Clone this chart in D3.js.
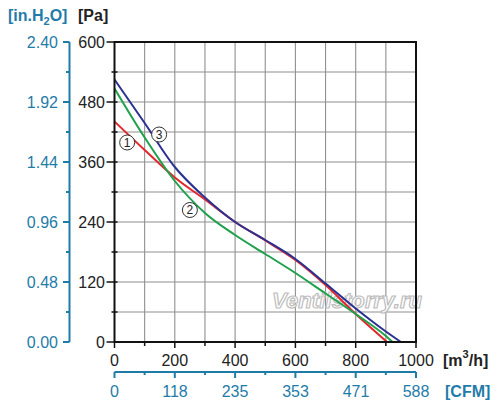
<!DOCTYPE html>
<html lang="en">
<head>
<meta charset="UTF-8">
<title>Fan curves</title>
<script src="https://cdn.jsdelivr.net/npm/d3@7/dist/d3.min.js"></script>
<style>
    body { margin: 0; background: #fff; }
    text { font-family: "Liberation Sans", Arial, sans-serif; }
</style>
</head>
<body>
<div id="chart"></div>
<script>
// air flow [m3/h] and static pressure [Pa] for each curve
const flow1 = [0, 100, 200, 300, 400, 500, 600, 700, 800, 904];
const pres1 = [441, 384, 329, 285, 240, 203, 164, 114, 56, 0];
const flow2 = [0, 100, 200, 300, 400, 500, 600, 700, 800, 900, 922];
const pres2 = [507, 409, 322, 258, 214, 176, 138, 97, 56, 12, 0];
const flow3 = [0, 100, 200, 300, 400, 500, 600, 700, 800, 900, 950];
const pres3 = [525, 438, 350, 289, 240, 204, 166, 117, 67, 21, 0];
const curveColors = ["#e3262b", "#1ea14b", "#2b3191"];

// circled curve numbers, placed in data units
const markNames = ["1", "2", "3"];
const markFlow = [42, 250, 148];
const markPres = [399, 264, 415];

// axis ticks
const paTicks = [0, 120, 240, 360, 480, 600];
const inTicks = [0, 0.48, 0.96, 1.44, 1.92, 2.40];
const flowTicks = [0, 200, 400, 600, 800, 1000];
const cfmTicks = [0, 118, 235, 353, 471, 588];

const W = 500, H = 406;
const blue = "#1f7ca8";
const fs = 16;

const svg = d3.select("#chart").append("svg")
    .attr("width", W).attr("height", H);

const x = d3.scaleLinear().domain([0, 1000]).range([114.5, 416]);
const y = d3.scaleLinear().domain([0, 600]).range([342, 42]);
const yIn = d3.scaleLinear().domain([0, 2.40]).range([342, 42]);
const xCfm = d3.scaleLinear().domain([0, 588]).range([114.5, 416]);

// grid
const grid = svg.append("g").attr("stroke", "#909090").attr("stroke-width", 1.1);
grid.selectAll(".gx").data(d3.range(100, 1000, 100)).enter().append("line")
    .attr("x1", d => x(d)).attr("x2", d => x(d))
    .attr("y1", y(0)).attr("y2", y(600));
grid.selectAll(".gy").data(d3.range(60, 600, 60)).enter().append("line")
    .attr("x1", x(0)).attr("x2", x(1000))
    .attr("y1", d => y(d)).attr("y2", d => y(d));

// watermark
svg.append("text")
    .attr("x", 272).attr("y", 308)
    .attr("font-size", 22).attr("font-style", "italic").attr("font-weight", "bold")
    .attr("textLength", 150)
    .attr("fill", "#fff").attr("stroke", "#bdbdbd").attr("stroke-width", 1.2)
    .text("Ventilstorry.ru");

// curves
const line = d3.line()
    .x(d => x(d[0])).y(d => y(d[1]))
    .curve(d3.curveMonotoneX);
[[flow1, pres1], [flow2, pres2], [flow3, pres3]].forEach(([f, p], i) => {
    svg.append("path")
        .datum(f.map((v, j) => [v, p[j]]))
        .attr("fill", "none")
        .attr("stroke", curveColors[i])
        .attr("stroke-width", 2)
        .attr("d", line);
});

// frame
svg.append("rect")
    .attr("x", x(0)).attr("y", y(600))
    .attr("width", x(1000) - x(0)).attr("height", y(0) - y(600))
    .attr("fill", "none").attr("stroke", "#111").attr("stroke-width", 2);

// circled numbers
const marks = svg.append("g").selectAll("g")
    .data(markNames).enter().append("g")
    .attr("transform", (d, i) => `translate(${x(markFlow[i])},${y(markPres[i])})`);
marks.append("circle").attr("r", 7.5)
    .attr("fill", "#fff").attr("stroke", "#333").attr("stroke-width", 1);
marks.append("text").attr("text-anchor", "middle").attr("dy", "0.36em")
    .attr("font-size", 12).attr("fill", "#222").text(d => d);

// left black Pa axis
const paAx = svg.append("g").attr("stroke", "#111").attr("stroke-width", 1.5);
paAx.selectAll("line").data(d3.range(0, 601, 60)).enter().append("line")
    .attr("x1", d => d % 120 === 0 ? x(0) - 8 : x(0) - 3)
    .attr("x2", d => x(0) + 3)
    .attr("y1", d => y(d)).attr("y2", d => y(d));
svg.append("g").selectAll("text").data(paTicks).enter().append("text")
    .attr("x", 105).attr("y", d => y(d)).attr("dy", "0.36em")
    .attr("text-anchor", "end").attr("font-size", fs).attr("fill", "#222")
    .text(d => d);

// left blue in.H2O axis
const inAx = svg.append("g").attr("stroke", blue).attr("stroke-width", 2);
inAx.append("line").attr("x1", 69.5).attr("x2", 69.5)
    .attr("y1", yIn(0)).attr("y2", yIn(2.40));
inAx.selectAll(".t").data(d3.range(0, 11)).enter().append("line")
    .attr("x1", d => d % 2 === 0 ? 63 : 66).attr("x2", 69.5)
    .attr("y1", d => yIn(d * 0.24)).attr("y2", d => yIn(d * 0.24));
svg.append("g").selectAll("text").data(inTicks).enter().append("text")
    .attr("x", 58).attr("y", d => yIn(d)).attr("dy", "0.36em")
    .attr("text-anchor", "end").attr("font-size", fs).attr("fill", blue)
    .text(d => d.toFixed(2));

// bottom black m3/h axis
const flAx = svg.append("g").attr("stroke", "#111").attr("stroke-width", 1.5);
flAx.selectAll("line").data(d3.range(0, 1001, 100)).enter().append("line")
    .attr("x1", d => x(d)).attr("x2", d => x(d))
    .attr("y1", y(0)).attr("y2", d => d % 200 === 0 ? y(0) + 6 : y(0) + 4);
svg.append("g").selectAll("text").data(flowTicks).enter().append("text")
    .attr("x", d => x(d)).attr("y", 366)
    .attr("text-anchor", "middle").attr("font-size", fs).attr("fill", "#222")
    .text(d => d);

// bottom blue CFM axis
const cfAx = svg.append("g").attr("stroke", blue).attr("stroke-width", 2);
cfAx.append("line").attr("x1", xCfm(0)).attr("x2", xCfm(588))
    .attr("y1", 372).attr("y2", 372);
cfAx.selectAll(".t").data(d3.range(0, 11)).enter().append("line")
    .attr("x1", d => xCfm(d * 58.8)).attr("x2", d => xCfm(d * 58.8))
    .attr("y1", 372).attr("y2", d => d % 2 === 0 ? 378 : 375);
svg.append("g").selectAll("text").data(cfmTicks).enter().append("text")
    .attr("x", d => xCfm(d)).attr("y", 397)
    .attr("text-anchor", "middle").attr("font-size", fs).attr("fill", blue)
    .text(d => d);

// unit labels
const inLab = svg.append("text").attr("x", 8).attr("y", 21)
    .attr("font-size", fs).attr("font-weight", "bold").attr("fill", blue);
inLab.append("tspan").text("[in.H");
inLab.append("tspan").attr("font-size", 11).attr("dy", 4).text("2");
inLab.append("tspan").attr("dy", -4).text("O]");

svg.append("text").attr("x", 78).attr("y", 21)
    .attr("font-size", fs).attr("font-weight", "bold").attr("fill", "#222")
    .text("[Pa]");

const mLab = svg.append("text").attr("x", 443).attr("y", 366)
    .attr("font-size", fs).attr("font-weight", "bold").attr("fill", "#222");
mLab.append("tspan").text("[m");
mLab.append("tspan").attr("font-size", 11).attr("dy", -8).text("3");
mLab.append("tspan").attr("dy", 8).text("/h]");

svg.append("text").attr("x", 445).attr("y", 397)
    .attr("font-size", fs).attr("font-weight", "bold").attr("fill", blue)
    .text("[CFM]");
</script>
</body>
</html>
